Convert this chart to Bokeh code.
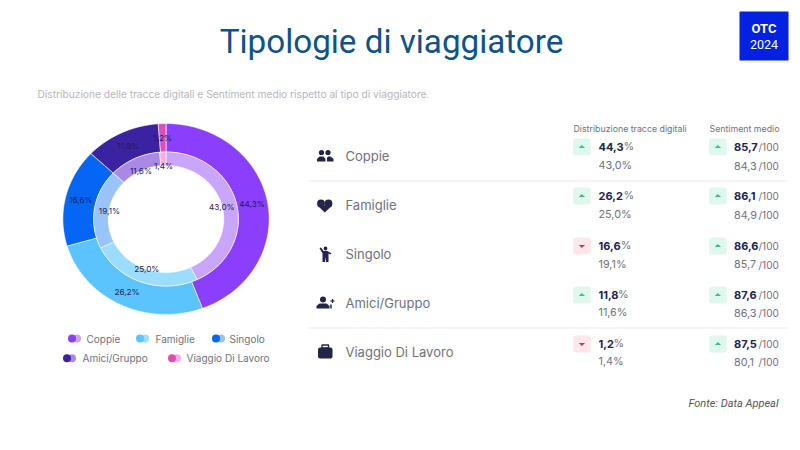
import math
from bokeh.plotting import figure
from bokeh.models import Range1d
from bokeh.core.properties import value
from bokeh.embed import file_html
from bokeh.resources import INLINE

categories = ["Coppie", "Famiglie", "Singolo", "Amici/Gruppo", "Viaggio Di Lavoro"]
dist_current = [44.3, 26.2, 16.6, 11.8, 1.2]
dist_previous = [43.0, 25.0, 19.1, 11.6, 1.4]
sent_current = [85.7, 86.1, 86.6, 87.6, 87.5]
sent_previous = [84.3, 84.9, 85.7, 86.3, 80.1]
outer_colors = ["#8a3ffc", "#5cc4fc", "#0565f5", "#3a22a0", "#dd4fb5"]
inner_colors = ["#c9a5fb", "#9cdcfd", "#98c4fa", "#a88ae6", "#f7aee3"]

TITLE = "Tipologie di viaggiatore"
SUBTITLE = "Distribuzione delle tracce digitali e Sentiment medio rispetto al tipo di viaggiatore."
INK = "#24244a"
GREY = "#70727c"
FONT = "Inter"

p = figure(width=790, height=440, output_backend="svg", toolbar_location=None,
           x_range=Range1d(0, 790), y_range=Range1d(440, 0),
           min_border=0, outline_line_color=None, background_fill_color="white")
p.axis.visible = False
p.grid.visible = False


def t(x, y, s, size, color=GREY, font=FONT, align="left", style="normal"):
    p.text([x], [y], text=[s], text_font=value(font), text_font_size=f"{size}px",
           text_color=color, text_align=align, text_baseline="middle", text_font_style=style)


def fmt(v):
    return f"{v:.1f}".replace(".", ",")


def bold_width(s):
    return sum(4.4 if ch == "1" else 3.1 if ch == "," else 7.1 for ch in s)


# header
t(391, 41, TITLE, 33.2, "#0f5288", "Roboto", "center")
p.quad(left=[739], right=[788], top=[11], bottom=[60], fill_color="#0420e0", line_color=None)
t(763.5, 28, "OTC", 13, "white", "Roboto", "center", "bold")
t(763.5, 44, "2024", 12.5, "white", "Roboto", "center")
t(37, 93, SUBTITLE, 10.2, "#b4b6bf")
t(778, 403, "Fonte: Data Appeal", 11, "#555555", "Roboto", "right", "italic")

# donut (the reference is slightly stretched horizontally)
CX, CY = 165.5, 218.5
STRETCH = 1.08


def ring(values, colors, r0, r1, labels_r):
    total = sum(values)
    start = 0.0
    xs, ys = [], []
    lx, ly = [], []
    for v in values:
        a0 = start / total * 2 * math.pi
        a1 = (start + v) / total * 2 * math.pi
        n = max(4, int(v * 2))
        angs = [a0 + (a1 - a0) * i / n for i in range(n + 1)]
        outer = [(CX + r1 * STRETCH * math.sin(a), CY - r1 * math.cos(a)) for a in angs]
        inner = [(CX + r0 * STRETCH * math.sin(a), CY - r0 * math.cos(a)) for a in reversed(angs)]
        pts = outer + inner
        xs.append([q[0] for q in pts])
        ys.append([q[1] for q in pts])
        m = (a0 + a1) / 2
        lx.append(CX + labels_r * STRETCH * math.sin(m))
        ly.append(CY - labels_r * math.cos(m))
        start += v
    p.patches(xs, ys, fill_color=colors, line_color="white", line_width=0.6)
    return lx, ly


olx, oly = ring(dist_current, outer_colors, 67, 95.5, 81)
ilx, ily = ring(dist_previous, inner_colors, 53.5, 67, 53)
for x, y, v in zip(olx, oly, dist_current):
    t(x, y, fmt(v) + "%", 8.2, "#221d52", FONT, "center")
for x, y, v in zip(ilx, ily, dist_previous):
    t(x, y, fmt(v) + "%", 8.2, "#221d52", FONT, "center")

# legend
leg_rows = [(338, [(67, 86, 0), (135, 155, 1), (211, 229, 2)]),
            (357.7, [(62, 82, 3), (167, 186, 4)])]
for y, items in leg_rows:
    for dot_x, tx, i in items:
        p.scatter([dot_x + 9.5], [y], size=8, marker="circle", fill_color=inner_colors[i], line_color=None)
        p.scatter([dot_x + 4.5], [y], size=8, marker="circle", fill_color=outer_colors[i], line_color=None)
        t(tx, y, categories[i], 10, GREY)

# table
row_main = [146, 195, 245, 294, 343]
row_sub = [165, 214, 263.5, 312, 361]
row_label = [155.5, 204.5, 253.5, 302.5, 351.5]
p.segment([308, 308], [180.5, 327.5], [787, 787], [180.5, 327.5], line_color="#e9e9ec", line_width=1)
t(573, 128, "Distribuzione tracce digitali", 8.8, GREY)
t(709, 128, "Sentiment medio", 8.8, GREY)


def badge(x, y, up):
    bg, fg = ("#dff7ec", "#37c08a") if up else ("#fde6ec", "#d6304f")
    p.quad(left=[x], right=[x + 17.5], top=[y - 8.5], bottom=[y + 8.5],
           fill_color=bg, line_color=None, border_radius=3)
    mx = x + 8.7
    tip, base = (y - 2, y + 1) if up else (y + 2, y - 1)
    p.patch([mx - 3.2, mx + 3.2, mx], [base, base, tip], fill_color=fg, line_color=None)


for i, name in enumerate(categories):
    t(345, row_label[i], name, 13, GREY)
    up = dist_current[i] >= dist_previous[i]
    badge(572.7, row_main[i] + 0.5, up)
    s = fmt(dist_current[i])
    t(598, row_main[i], s, 11, INK, FONT, "left", "bold")
    t(598 + bold_width(s) + 0.5, row_main[i], "%", 10.8, GREY)
    t(598, row_sub[i], fmt(dist_previous[i]) + "%", 10.8, GREY)
    badge(708.7, row_main[i] + 0.5, sent_current[i] >= sent_previous[i])
    t(733.5, row_main[i], fmt(sent_current[i]), 11, INK, FONT, "left", "bold")
    t(758, row_main[i] + 0.5, "/100", 10, GREY)
    t(733.5, row_sub[i], fmt(sent_previous[i]), 10.8, GREY)
    t(758, row_sub[i] + 0.5, "/100", 10, GREY)

# icons
c = INK
# people
iy = row_label[0]
p.circle([321, 327.5], [iy - 3.5, iy - 3.5], radius=2.6, fill_color=c, line_color=None)
p.patches([[316.5, 316.5, 319, 323, 325, 325],
           [326.5, 326.5, 327.5, 330, 333, 333]],
          [[iy + 5.5, iy + 3, iy + 0.5, iy + 0.5, iy + 3, iy + 5.5],
           [iy + 5.5, iy + 2, iy + 0.5, iy + 0.5, iy + 3, iy + 5.5]], fill_color=c, line_color=None)
# heart
iy = row_label[1]
p.circle([320.5, 328], [iy - 1.5, iy - 1.5], radius=3.9, fill_color=c, line_color=None)
p.patch([317, 331.7, 324.3], [iy + 0.5, iy + 0.5, iy + 7.5], fill_color=c, line_color=None)
# standing person
iy = row_label[2]
p.circle([325], [iy - 5.5], radius=1.9, fill_color=c, line_color=None)
p.patch([319, 320.5, 323, 327, 331, 330, 328, 328, 325.5, 325, 324.5, 322, 322, 320.5],
        [iy - 6, iy - 6.5, iy - 3, iy - 3, iy - 0.5, iy + 0.5, iy - 0.5, iy + 8, iy + 8, iy + 3, iy + 8, iy + 8, iy - 1, iy - 3],
        fill_color=c, line_color=None)
# person with plus
iy = row_label[3]
p.circle([322.5], [iy - 3.5], radius=3, fill_color=c, line_color=None)
p.patch([316, 316, 319, 326, 329, 329], [iy + 5.5, iy + 3, iy + 0.5, iy + 0.5, iy + 3, iy + 5.5], fill_color=c, line_color=None)
p.segment([330, 332], [iy - 2, iy - 4], [334, 332], [iy - 2, iy], line_color=c, line_width=1.2)
p.segment([330.5], [iy + 1.5], [330.5], [iy + 5.5], line_color=c, line_width=1.5)
# briefcase
iy = row_label[4]
p.quad(left=[317.5], right=[332], top=[iy - 4.5], bottom=[iy + 6.5], fill_color=c, line_color=None, border_radius=2)
p.quad(left=[321.5], right=[328], top=[iy - 7], bottom=[iy - 4], fill_color=None, line_color=c, line_width=1.4)

open("out.html", "w").write(file_html(p, INLINE))
